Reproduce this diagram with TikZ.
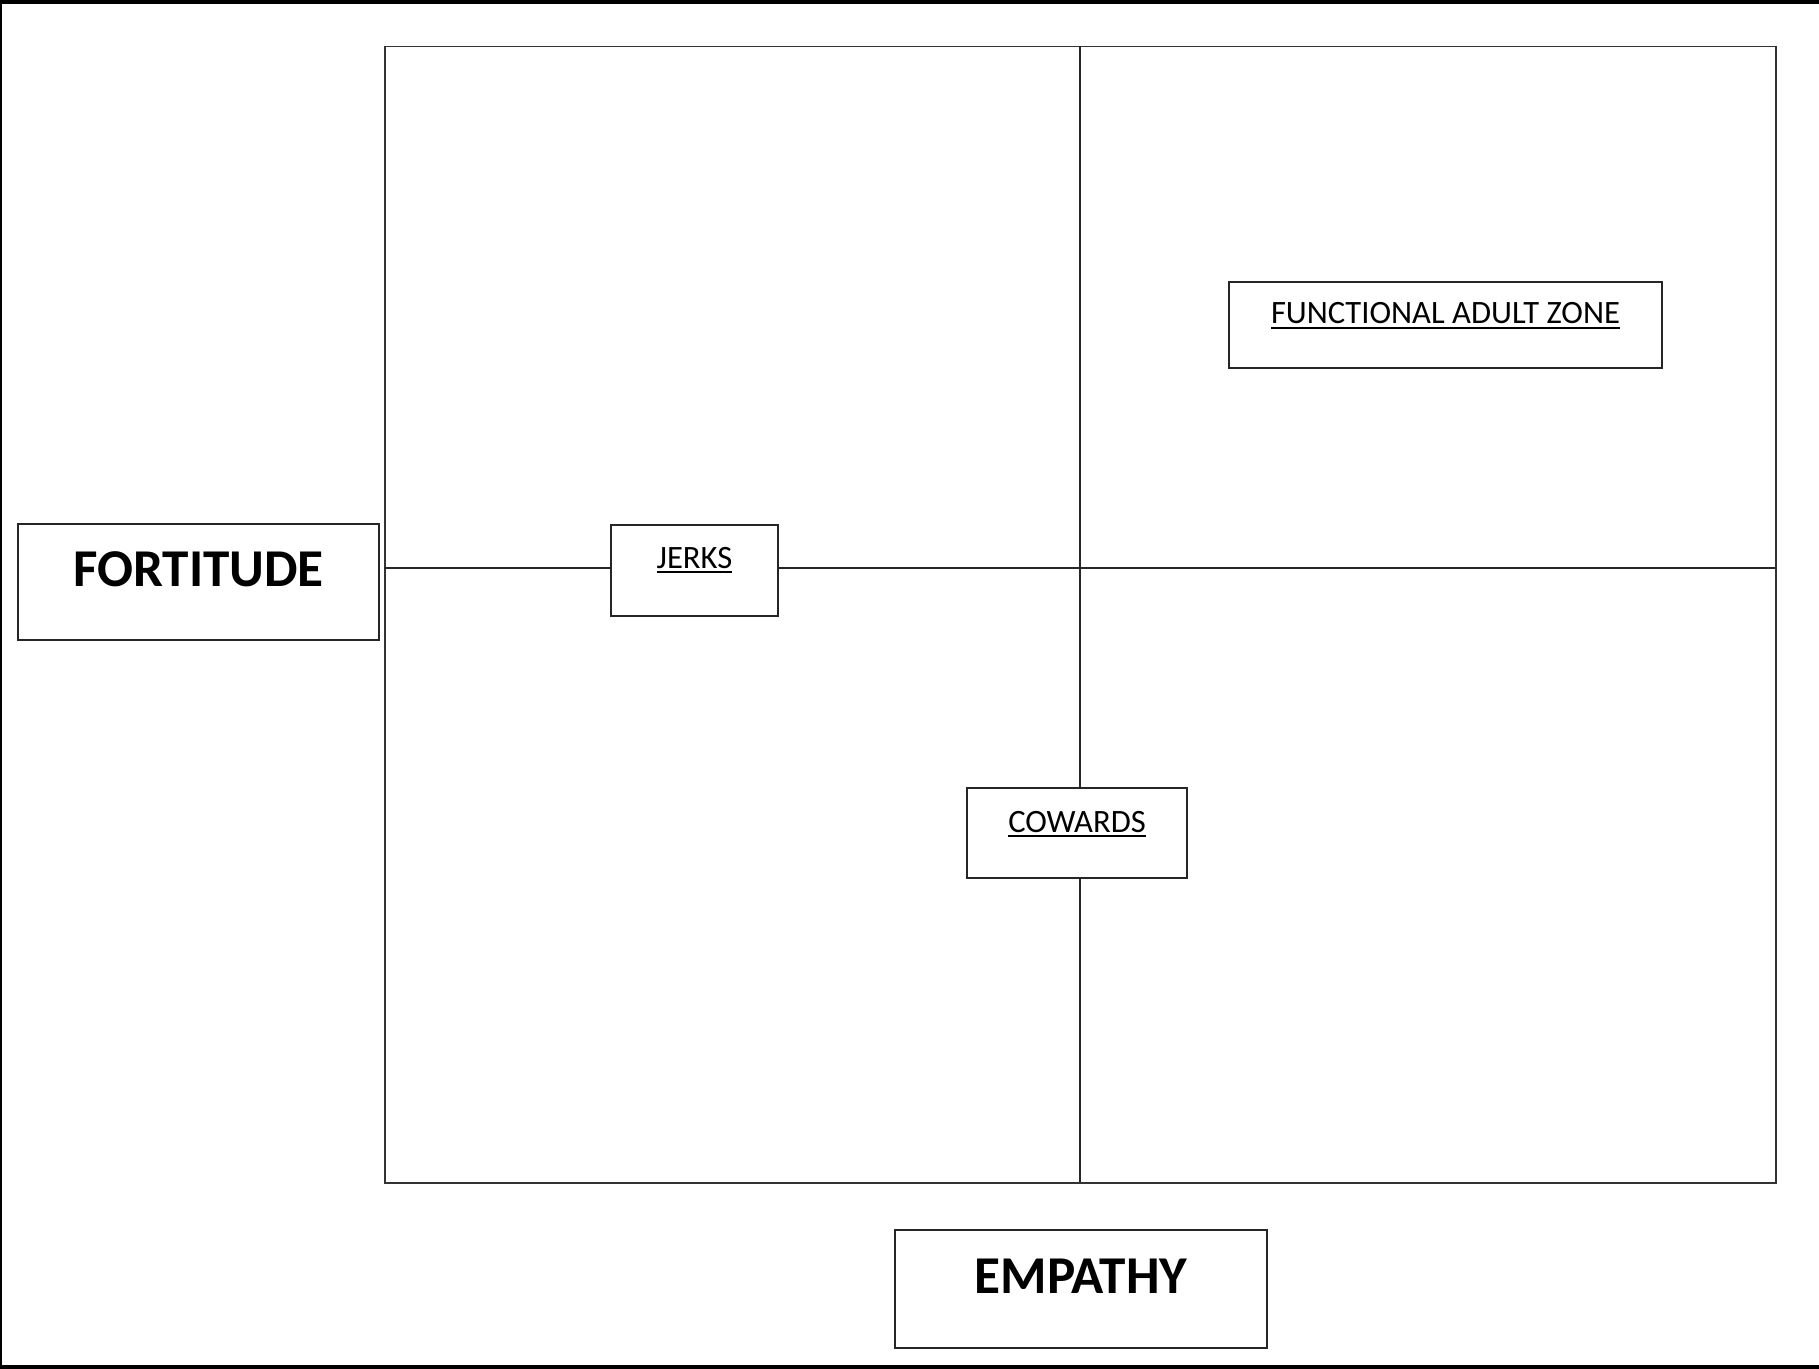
\documentclass[tikz,border=0pt]{standalone}
\usepackage{fontspec}
\setmainfont{Carlito}
\newcommand\myul[1]{\setbox0\hbox{#1}\rlap{\rule[-2.6pt]{\wd0}{0.9pt}}\box0}
\begin{document}
\begin{tikzpicture}[x=0.5pt,y=-0.5pt,
  box/.style={draw=black!85, line width=1pt, fill=white, inner xsep=0pt, inner ysep=0pt, anchor=north west, align=center},
  bigtxt/.style={font=\fontsize{26.6}{30}\selectfont\bfseries},
  smalltxt/.style={font=\fontsize{16.3}{19}\selectfont},
  axis/.style={draw=black!85, line width=0.6pt}]
\useasboundingbox (0,0) rectangle (1819,1369);
\fill[white] (0,0) rectangle (1819,1369);
% outer page edges
\fill[black] (0,0) rectangle (1819,4);
\fill[black] (0,0) rectangle (2,1369);
\fill[black] (0,1365) rectangle (1819,1369);
% main frame
\node[draw=black!80, line width=0.75pt, minimum width=695.5pt, minimum height=568pt, inner sep=0pt, anchor=north west] (frame) at (384,46) {};
\coordinate (midN) at (1080,46);
\coordinate (midS) at (1080,1182);
\coordinate (midW) at (384,568);
\coordinate (midE) at (1775,568);
% boxes
\node[box, bigtxt, minimum width=180.5pt, text height=31pt, text depth=27pt] (fort) at (17,523) {FORTITUDE};
\node[box, smalltxt, minimum width=83.5pt, text height=21.5pt, text depth=24pt] (jerks) at (610,524) {\myul{JERKS}};
\node[box, smalltxt, minimum width=110pt, text height=22pt, text depth=23pt] (cow) at (966,787) {\myul{COWARDS}};
\node[box, smalltxt, minimum width=216.5pt, text height=21pt, text depth=22pt] (faz) at (1228,281) {\myul{FUNCTIONAL ADULT ZONE}};
\node[box, bigtxt, minimum width=186pt, text height=31.5pt, text depth=27.5pt] (emp) at (894,1229) {EMPATHY};
% axes
\draw[axis] (midW) -- (midW -| jerks.west);
\draw[axis] (midE -| jerks.east) -- (midE);
\draw[axis] (midN) -- (midN |- cow.north);
\draw[axis] (midS |- cow.south) -- (midS);
\end{tikzpicture}
\end{document}
